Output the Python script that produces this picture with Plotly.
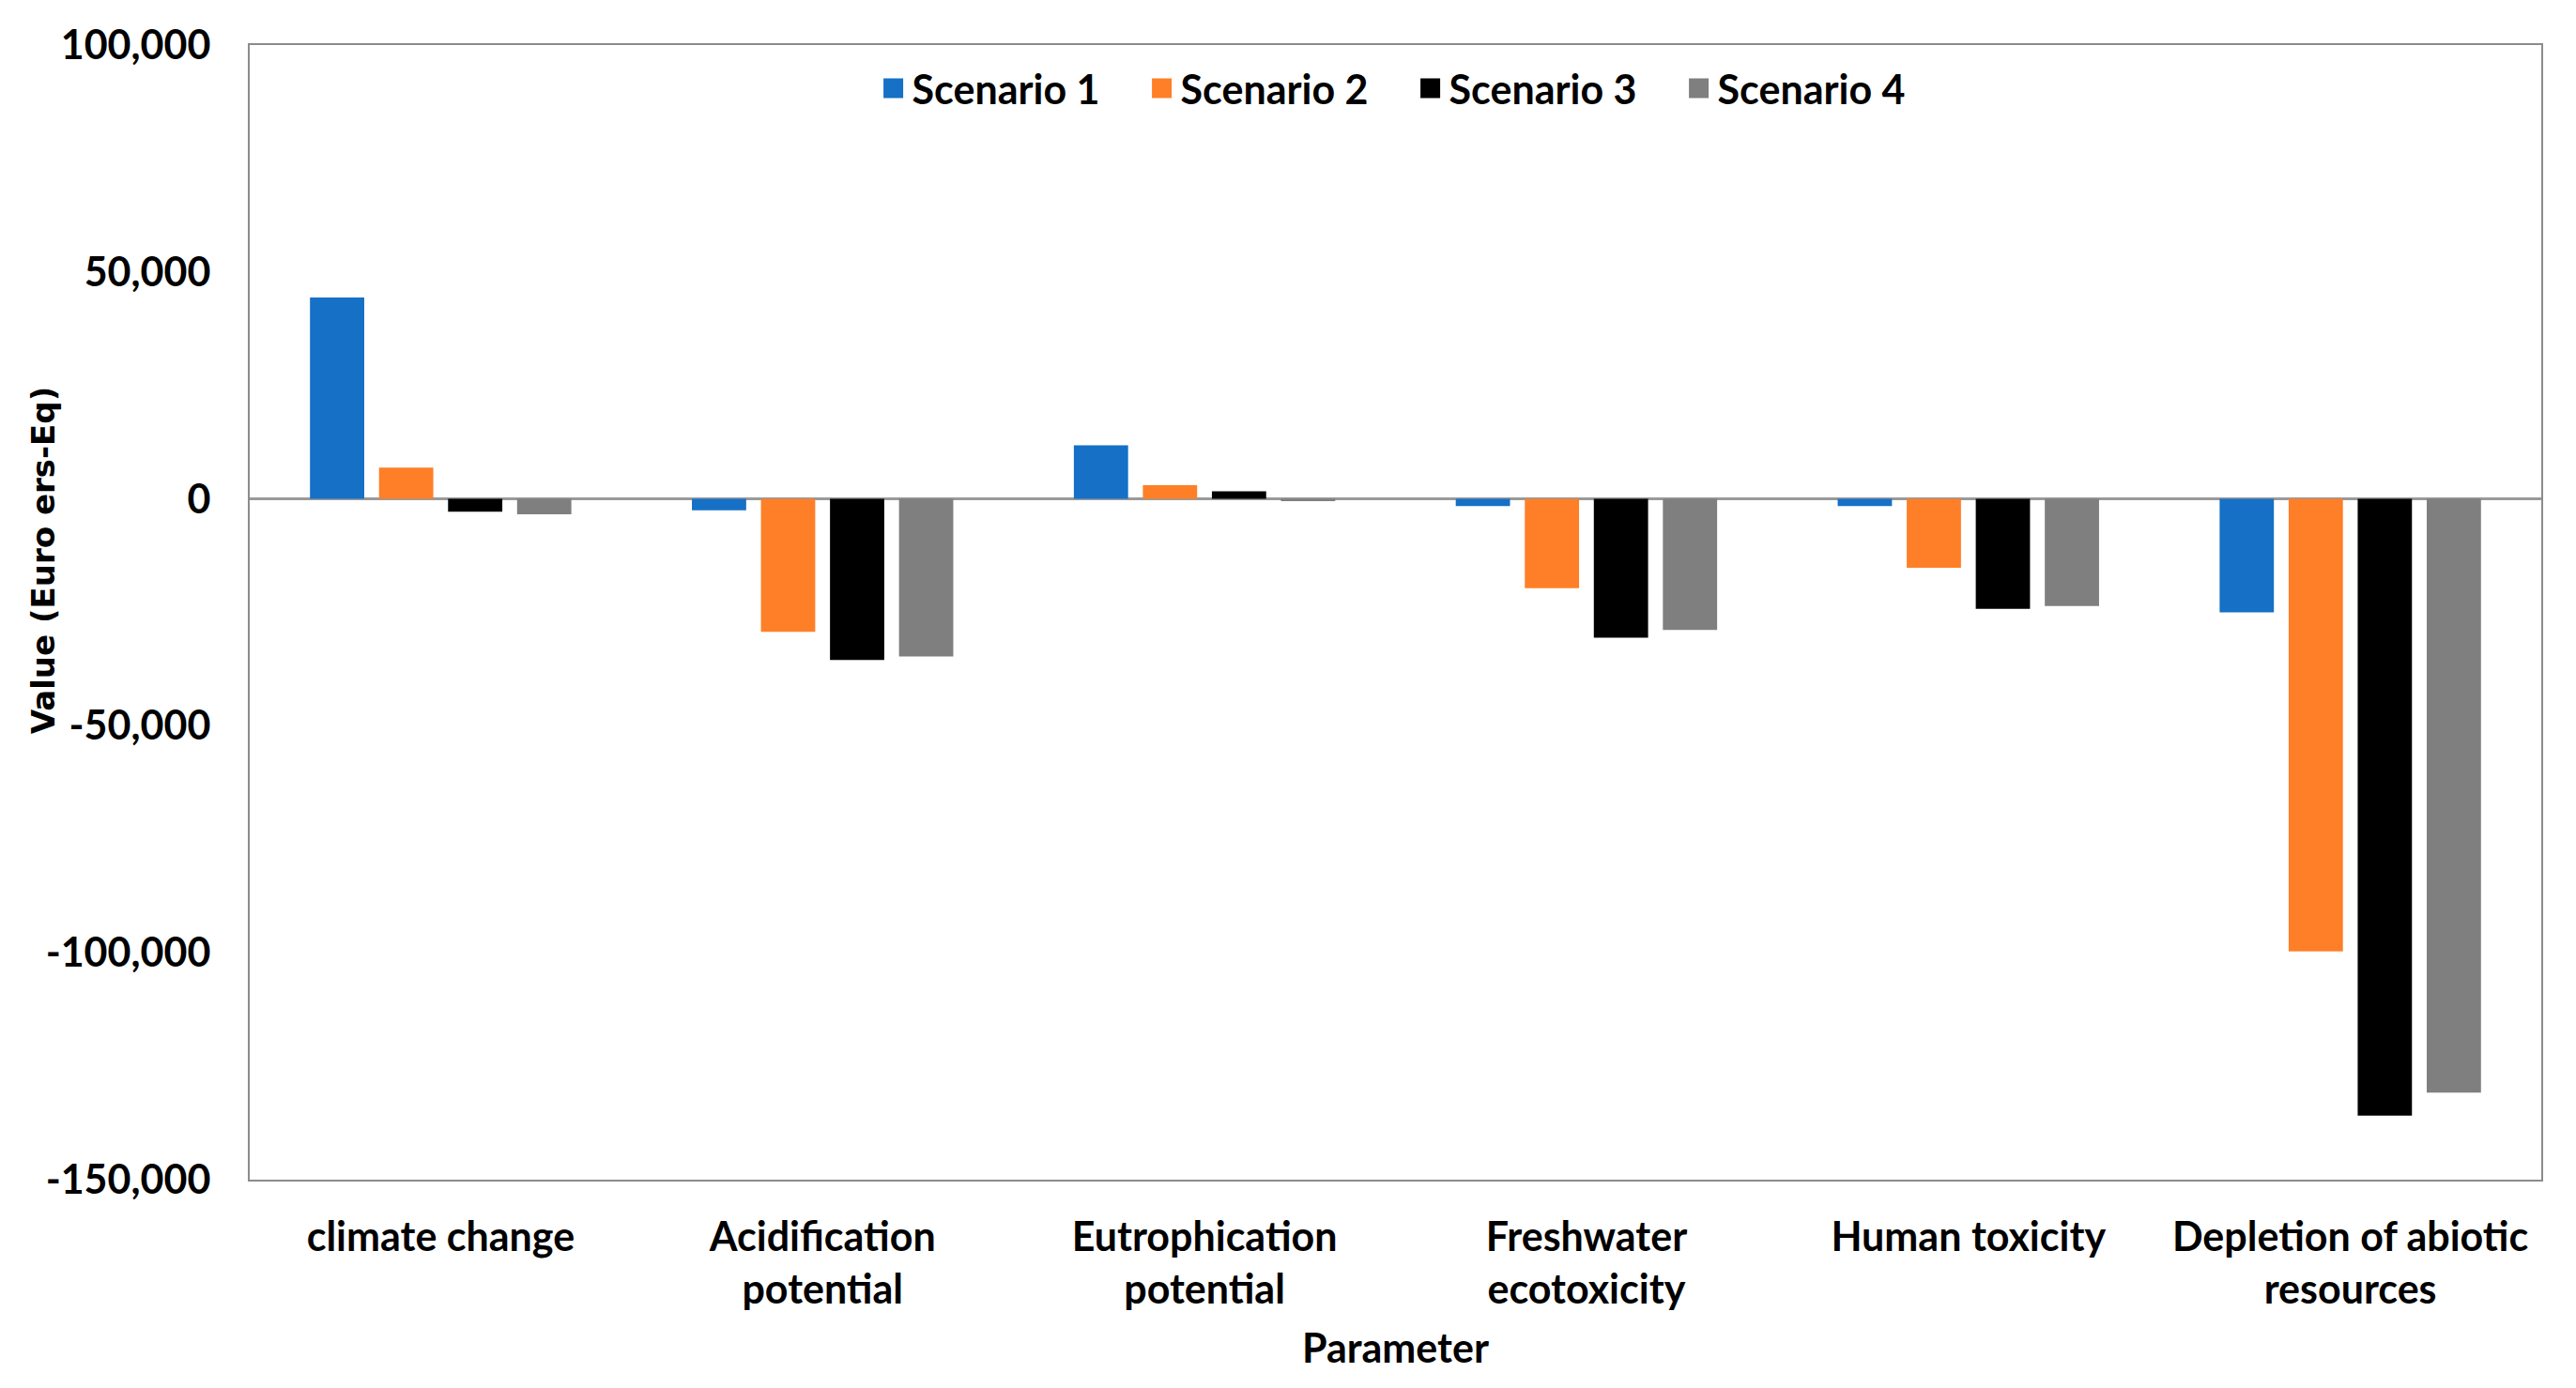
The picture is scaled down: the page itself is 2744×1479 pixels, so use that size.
import plotly.graph_objects as go

# impact categories (x axis) and per-scenario values
categories = [
    "climate change",
    "Acidification<br>potential",
    "Eutrophication<br>potential",
    "Freshwater<br>ecotoxicity",
    "Human toxicity",
    "Depletion of abiotic<br>resources",
]
scenario_names = ["Scenario 1", "Scenario 2", "Scenario 3", "Scenario 4"]
scenario_1 = [44400, -2500, 11800, -1600, -1600, -25000]
scenario_2 = [6900, -29300, 3000, -19700, -15200, -99700]
scenario_3 = [-2800, -35500, 1700, -30600, -24200, -135900]
scenario_4 = [-3400, -34700, -500, -28900, -23600, -130800]
colors = ["#1570c6", "#fe7f27", "#000000", "#7f7f7f"]

y_ticks = [100000, 50000, 0, -50000, -100000, -150000]
y_tick_labels = [f"{v:,}" for v in y_ticks]  # plain hyphen like the original

W, H = 2744, 1479
FONT = "Lato, Carlito, Calibri, sans-serif"

fig = go.Figure()
for name, vals, col in zip(scenario_names,
                           [scenario_1, scenario_2, scenario_3, scenario_4],
                           colors):
    fig.add_trace(go.Bar(x=categories, y=vals, name=name, legendgroup=name,
                         showlegend=False,
                         marker=dict(color=col, line=dict(width=0))))
    # legend-only entry so the key square can be drawn larger
    fig.add_trace(go.Scatter(x=[None], y=[None], name=name, legendgroup=name,
                             mode="markers",
                             marker=dict(symbol="square", size=16, color=col,
                                         line=dict(color=col, width=5))))

fig.update_layout(
    width=W, height=H,
    margin=dict(l=258, r=45, t=40, b=230),
    paper_bgcolor="white", plot_bgcolor="white",
    barmode="group", bargap=0.277, bargroupgap=0.214,
    font=dict(family=FONT, color="black", size=43),
    legend=dict(orientation="h", x=0.507, xanchor="center",
                y=0.962, yanchor="middle",
                font=dict(family=FONT, size=43, weight="bold"),
                entrywidth=241, entrywidthmode="pixels",
                itemwidth=30,
                bgcolor="rgba(0,0,0,0)"),
    showlegend=True,
)

fig.update_xaxes(
    showline=True, mirror=True, linecolor="#8c8c8c", linewidth=2,
    showgrid=False, ticks="", ticklabelstandoff=22,
    tickfont=dict(family=FONT, size=43, weight="bold"),
)
fig.update_yaxes(
    range=[-150000, 100000], tickvals=y_ticks, ticktext=y_tick_labels,
    showline=True, mirror=True, linecolor="#8c8c8c", linewidth=2,
    showgrid=False, zeroline=True, zerolinecolor="#9a9a9a", zerolinewidth=3,
    ticks="", ticklabelstandoff=31,
    tickfont=dict(family=FONT, size=43, weight="bold"),
)

# axis titles placed as in the original
fig.add_annotation(text="Value (Euro ers-Eq)", xref="paper", yref="paper",
                   x=-0.090, y=0.546, xanchor="center", yanchor="middle",
                   textangle=-90, showarrow=False,
                   font=dict(family="DejaVu Sans", size=34, weight="bold"))
fig.add_annotation(text="Parameter", xref="paper", yref="paper",
                   x=0.5, y=-0.148, xanchor="center", yanchor="middle",
                   showarrow=False,
                   font=dict(family=FONT, size=43, weight="bold"))

fig.write_html("out.html")
